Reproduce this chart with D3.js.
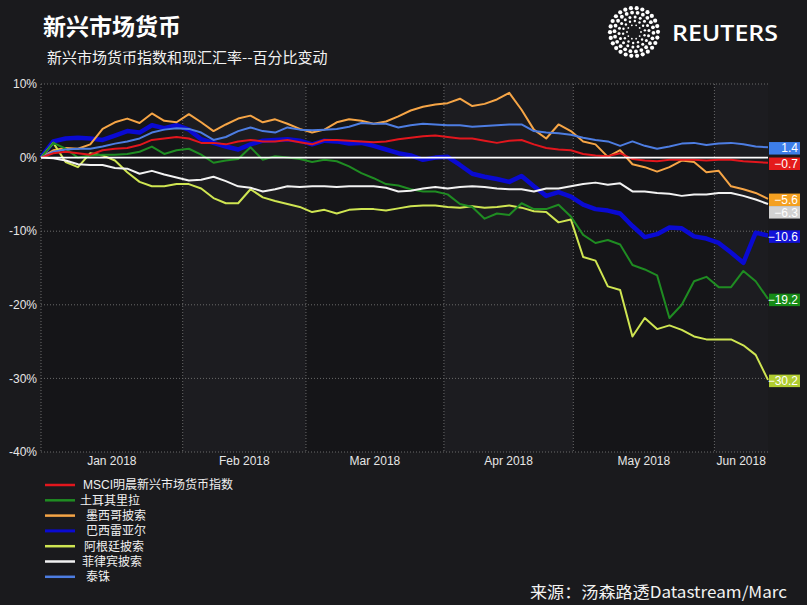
<!DOCTYPE html>
<html><head><meta charset="utf-8">
<script src="https://cdn.jsdelivr.net/npm/d3@7"></script>
<style>body{margin:0;background:#1a1a1d;} svg{display:block}</style>
</head><body>
<svg id="c" width="807" height="605"></svg>
<script>
// trading-day index of each sample (every 2nd trading day from 29 Dec 2017)
const days = d3.range(0, 119, 2);
const msci = [0,0.6,0.8,0.6,0.4,1.0,1.2,1.3,1.7,2.4, 2.6,2.8,2.6,2.0,2.0,1.8,2.2,2.4,2.2,2.2, 2.4,2.1,1.8,2.4,2.4,2.3,2.2,2.1,2.2,2.5, 2.7,2.9,3.0,2.8,2.6,2.6,2.3,2.0,2.3,2.4, 1.8,1.3,1.1,1.0,0.5,0.3,0.2,0.6,-0.2,-0.4, -0.5,-0.3,-0.3,-0.3,-0.4,-0.3,-0.3,-0.5,-0.6,-0.7];
const tryLira = [0,2.0,1.2,0.0,0.3,0.4,0.4,0.5,0.8,1.5, 0.5,1.0,1.2,0.4,-0.7,-0.4,-0.2,1.4,-0.3,0.2, 0.0,-0.2,-0.6,-0.3,-0.5,-1.2,-2.1,-2.8,-3.6,-3.8, -4.3,-4.6,-4.6,-5.0,-6.3,-6.7,-8.3,-7.6,-7.8,-6.2, -7.0,-7.0,-6.4,-8.0,-10.5,-11.6,-11.2,-11.8,-14.6,-15.2, -16.0,-21.8,-20.0,-16.8,-16.2,-17.6,-17.6,-15.4,-16.8,-19.2];
const mxn = [0,1.0,1.3,1.2,1.8,3.9,4.8,5.3,4.7,6.0, 5.0,4.8,5.9,4.8,3.6,4.5,5.3,5.7,4.8,5.2, 4.6,3.9,3.4,3.8,4.8,5.2,5.0,4.6,4.9,5.6, 6.4,6.9,7.2,7.4,8.0,7.0,7.3,7.9,8.8,6.5, 3.8,2.6,4.5,3.6,2.2,1.8,0.1,1.0,-0.9,-1.3, -1.9,-1.3,-0.4,-0.6,-2.0,-1.8,-3.9,-4.3,-4.8,-5.6];
const brl = [0,2.2,2.6,2.7,2.6,2.4,3.0,3.6,3.4,4.4, 4.0,4.4,3.8,2.5,2.0,1.5,1.1,1.8,2.3,2.4, 2.5,2.3,1.8,2.3,2.2,1.9,2.0,1.6,1.1,0.6, 0.3,-0.3,0.0,0.1,-1.0,-2.2,-2.6,-2.9,-3.3,-2.5, -3.9,-5.2,-4.7,-5.3,-6.4,-7.0,-7.2,-7.6,-9.3,-10.8, -10.4,-9.5,-9.6,-10.7,-11.0,-11.6,-12.9,-14.3,-10.2,-10.6];
const ars = [0,2.0,-0.6,-1.3,0.6,0.3,-0.4,-2.0,-3.3,-3.9, -3.9,-3.6,-3.6,-4.2,-5.5,-6.2,-6.2,-4.3,-5.4,-5.9, -6.3,-6.7,-7.4,-7.1,-7.6,-7.1,-7.0,-7.0,-7.2,-6.9, -6.6,-6.5,-6.5,-6.7,-6.8,-6.6,-6.8,-6.7,-6.5,-6.8, -7.3,-7.4,-8.8,-8.4,-13.5,-14.0,-17.5,-18.0,-24.3,-21.8, -23.3,-22.8,-23.4,-24.3,-24.7,-24.7,-24.7,-25.5,-26.8,-30.2];
const php = [0,-0.1,-0.4,-0.9,-1.0,-1.0,-1.4,-1.5,-2.2,-1.8, -2.3,-2.7,-3.1,-3.0,-2.6,-3.2,-3.9,-4.1,-4.6,-4.3, -3.9,-4.0,-3.9,-3.9,-4.0,-3.9,-3.9,-3.9,-4.1,-4.6, -4.5,-4.2,-4.0,-4.2,-4.0,-3.9,-4.0,-4.2,-4.3,-4.3, -4.6,-4.2,-4.2,-3.9,-3.6,-3.4,-3.7,-3.5,-4.6,-4.6, -4.8,-4.9,-5.2,-5.0,-5.0,-4.8,-4.8,-5.2,-5.7,-6.3];
const thb = [0,0.8,1.1,1.2,1.2,1.5,1.9,2.2,2.6,3.4, 3.8,4.0,3.9,3.4,2.4,2.8,3.6,4.1,3.6,3.4, 4.1,3.8,3.7,3.8,3.9,4.2,4.7,4.6,4.6,4.1, 4.4,4.6,4.5,4.4,4.4,4.2,4.3,4.4,4.5,4.5, 3.6,3.4,3.3,3.1,2.7,2.4,2.2,1.6,2.2,1.6, 1.2,1.5,1.9,2.0,1.7,1.9,2.0,1.8,1.5,1.4];

const seriesNames = ["MSCI明晨新兴市场货币指数","土耳其里拉","墨西哥披索","巴西雷亚尔","阿根廷披索","菲律宾披索","泰铢"];
const monthLabels = ["Jan 2018","Feb 2018","Mar 2018","Apr 2018","May 2018","Jun 2018"];
// trading-day index where each month starts (boundaries), plus ends of data
const monthBounds = [0, 23, 43, 65.4, 86.4, 109.3, 118];
const yTicks = [10, 0, -10, -20, -30, -40];

const series = [
  {name: seriesNames[3], values: brl, color: "#0a0ad2", bg: "#1212d8", w: 4.5, legW: 3},
  {name: seriesNames[2], values: mxn, color: "#f6a546", bg: "#f4a020", w: 2, legW: 2.5},
  {name: seriesNames[4], values: ars, color: "#cfe552", bg: "#b0cc30", w: 2, legW: 2.5},
  {name: seriesNames[1], values: tryLira, color: "#1f8c22", bg: "#168a16", w: 2, legW: 2.5},
  {name: seriesNames[5], values: php, color: "#f2f2f2", bg: "#d2d2d2", w: 2, legW: 2.5},
  {name: seriesNames[6], values: thb, color: "#4d7de2", bg: "#3d7ee9", w: 2, legW: 2.5},
  {name: seriesNames[0], values: msci, color: "#e2161d", bg: "#e41b1b", w: 2, legW: 2.5}
];
const legendOrder = [0,1,2,3,4,5,6].map(i => series.find(s => s.name === seriesNames[i]));

const svg = d3.select("#c");
const W = 807, H = 605;
const latin = "'Liberation Sans', Arial, 'Noto Sans CJK SC', sans-serif";
const cjk = "'Noto Sans CJK SC', 'Liberation Sans', sans-serif";

svg.append("rect").attr("width", W).attr("height", H).attr("fill", "#1a1a1d");

const x = d3.scaleLinear().domain([0, 118]).range([41, 768]);
const y = d3.scaleLinear().domain([-40, 10]).range([452, 84]);

// month bands
const bands = svg.append("g");
for (let i = 0; i < monthBounds.length - 1; i++) {
  bands.append("rect")
    .attr("x", x(monthBounds[i])).attr("y", y(10))
    .attr("width", x(monthBounds[i+1]) - x(monthBounds[i]))
    .attr("height", y(-40) - y(10))
    .attr("fill", i % 2 === 0 ? "#151518" : "#1c1c20");
}

// horizontal grid
svg.append("g").selectAll("line").data(yTicks.filter(d => d !== 0)).join("line")
  .attr("x1", x(0)).attr("x2", x(118)).attr("y1", d => y(d)).attr("y2", d => y(d))
  .attr("stroke", "#6a6a6a").attr("stroke-width", 1).attr("stroke-dasharray", "1,2");
// vertical grid at month boundaries
svg.append("g").selectAll("line").data(monthBounds.slice(0, -1)).join("line")
  .attr("x1", d => x(d)).attr("x2", d => x(d)).attr("y1", y(10)).attr("y2", y(-40))
  .attr("stroke", "#6a6a6a").attr("stroke-width", 1).attr("stroke-dasharray", "1,2");

// y axis labels
svg.append("g").selectAll("text").data(yTicks).join("text")
  .attr("x", 37).attr("y", d => y(d)).attr("dy", "0.35em")
  .attr("text-anchor", "end").attr("fill", "#e6e6e6")
  .attr("font-family", latin).attr("font-size", 12)
  .text(d => d + "%");

// x labels at month midpoints
svg.append("g").selectAll("text").data(monthLabels).join("text")
  .attr("x", (d, i) => x((monthBounds[i] + monthBounds[i+1]) / 2))
  .attr("y", 465).attr("text-anchor", "middle").attr("fill", "#e6e6e6")
  .attr("font-family", latin).attr("font-size", 12)
  .text(d => d);

// lines
const line = d3.line().x((d, i) => x(days[i])).y(d => y(d)).curve(d3.curveLinear);
const lines = svg.append("g");
series.forEach(s => {
  lines.append("path").datum(s.values)
    .attr("d", line).attr("fill", "none")
    .attr("stroke", s.color).attr("stroke-width", s.w)
    .attr("stroke-linejoin", "round");
});

// zero line
svg.append("line").attr("x1", x(0)).attr("x2", x(118)).attr("y1", y(0)).attr("y2", y(0))
  .attr("stroke", "#ffffff").attr("stroke-width", 1.6);

// end labels with collision avoidance
const ends = series.map(s => ({s, v: s.values[s.values.length - 1], cy: y(s.values[s.values.length - 1])}))
  .sort((a, b) => a.cy - b.cy);
const boxH = 12.5;
for (let i = 1; i < ends.length; i++) {
  if (ends[i].cy - ends[i-1].cy < boxH) ends[i].cy = ends[i-1].cy + boxH;
}
const lg = svg.append("g");
ends.forEach(e => {
  lg.append("rect").attr("x", 769).attr("y", e.cy - boxH/2 + 1).attr("width", 31).attr("height", boxH)
    .attr("fill", e.s.bg);
  lg.append("text").attr("x", 798).attr("y", e.cy + 1).attr("dy", "0.35em")
    .attr("text-anchor", "end").attr("fill", "#ffffff")
    .attr("font-family", latin).attr("font-size", 12)
    .text(d3.format(".1f")(e.v));
});

// legend
const leg = svg.append("g");
legendOrder.forEach((s, i) => {
  const yy = 485 + i * 15.3;
  leg.append("line").attr("x1", 45).attr("x2", 75).attr("y1", yy).attr("y2", yy)
    .attr("stroke", s.color).attr("stroke-width", s.legW);
  leg.append("text").attr("x", [83,80,86,86,84,82,86][i]).attr("y", yy).attr("dy", "0.36em")
    .attr("fill", "#f0f0f0").attr("font-family", latin).attr("font-size", 12)
    .text(s.name);
});

// title & subtitle
svg.append("text").attr("x", 43).attr("y", 35).attr("fill", "#ffffff")
  .attr("font-family", cjk).attr("font-weight", "bold").attr("font-size", 23)
  .text("新兴市场货币");
svg.append("text").attr("x", 47).attr("y", 63).attr("fill", "#f2f2f2")
  .attr("font-family", cjk).attr("font-size", 15)
  .text("新兴市场货币指数和现汇汇率--百分比变动");

// source
svg.append("text").attr("x", 530).attr("y", 598).attr("fill", "#f2f2f2")
  .attr("font-family", cjk).attr("font-size", 16)
  .attr("textLength", 257).attr("lengthAdjust", "spacingAndGlyphs")
  .text("来源：汤森路透Datastream/Marc");

// Reuters logo
const logo = svg.append("g").attr("transform", "translate(634,32)");
const rings = [{r: 7, n: 10, d: 0.9}, {r: 11, n: 14, d: 1.2}, {r: 15, n: 18, d: 1.5}, {r: 19.5, n: 22, d: 1.9}, {r: 24, n: 26, d: 2.1}];
rings.forEach((rg, j) => {
  d3.range(rg.n).forEach(k => {
    const a = (k / rg.n) * 2 * Math.PI + j * 0.3;
    logo.append("circle").attr("cx", rg.r * Math.cos(a)).attr("cy", rg.r * Math.sin(a))
      .attr("r", rg.d).attr("fill", "#ffffff");
  });
});
svg.append("text").attr("x", 672).attr("y", 41).attr("fill", "#ffffff")
  .attr("font-family", "'Open Sans', 'Liberation Sans', sans-serif").attr("font-weight", 600)
  .attr("font-size", 22).attr("textLength", 106).attr("lengthAdjust", "spacingAndGlyphs")
  .text("REUTERS");
</script>
</body></html>
